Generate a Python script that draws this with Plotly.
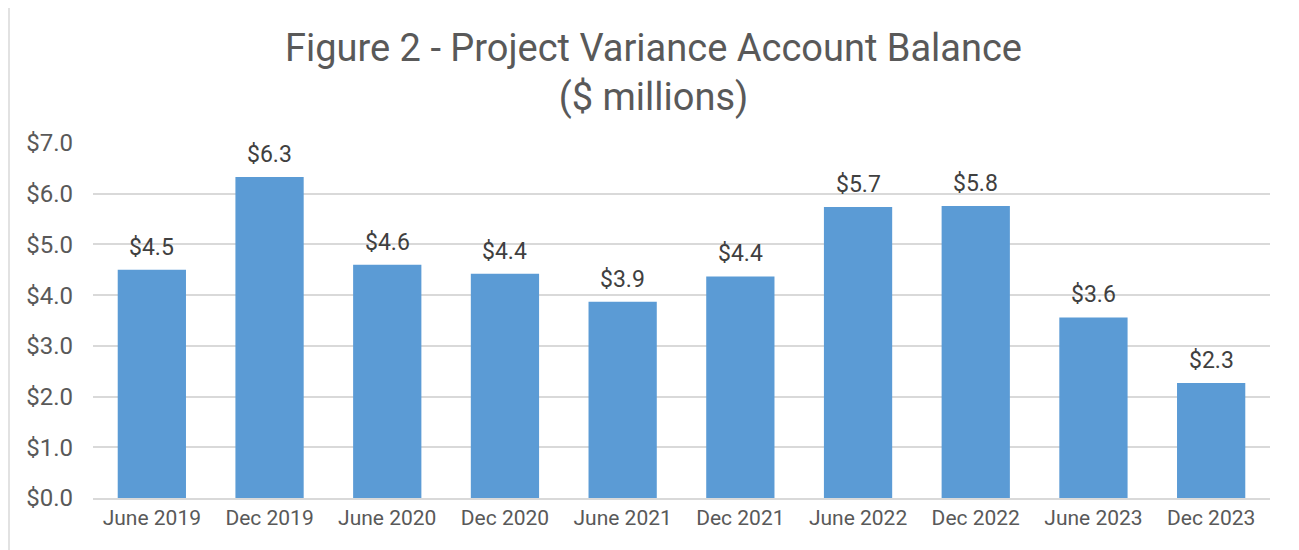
import plotly.graph_objects as go

categories = ["June 2019", "Dec 2019", "June 2020", "Dec 2020", "June 2021",
              "Dec 2021", "June 2022", "Dec 2022", "June 2023", "Dec 2023"]
values = [4.50, 6.33, 4.60, 4.42, 3.87, 4.37, 5.74, 5.76, 3.56, 2.27]
tick_vals = [0, 1, 2, 3, 4, 5, 6, 7]
tick_text = ["$0.0", "$1.0", "$2.0", "$3.0", "$4.0", "$5.0", "$6.0", "$7.0"]

# page body has an 8px margin; figure is sized/offset to compensate
W, H = 1291, 542
L, R, T, B = 85, 29, 135, 52
pw = W - L - R
ph = H - T - B

fig = go.Figure(go.Bar(
    x=categories, y=values,
    marker=dict(color="#5B9BD5", line=dict(width=0)),
    hoverinfo="x+y",
))

for c, v in zip(categories, values):
    fig.add_annotation(x=c, y=v, text=f"${v:.1f}", showarrow=False,
                       yanchor="bottom", yshift=7,
                       font=dict(size=23, color="#404040", family="Roboto"))

fig.update_layout(
    width=W, height=H,
    margin=dict(l=L, r=R, t=T, b=B, autoexpand=False),
    paper_bgcolor="white", plot_bgcolor="white",
    bargap=0.42,
    showlegend=False,
    font=dict(family="Roboto", color="#595959"),
    title=dict(text="Figure 2 - Project Variance Account Balance<br>($ millions)",
               x=0.5, xanchor="center", xref="container",
               y=1 - 53 / H, yanchor="middle", yref="container",
               font=dict(size=38, color="#595959", family="Roboto")),
    xaxis=dict(showgrid=False, showline=True, linecolor="#D9D9D9", linewidth=1.5,
               ticks="", automargin=False, tickfont=dict(size=21, color="#595959")),
    yaxis=dict(range=[0, 7], tickvals=tick_vals, ticktext=tick_text,
               showgrid=True, gridcolor="#D9D9D9", gridwidth=1.5,
               zeroline=False, showline=False, ticks="", automargin=False,
               ticklabelstandoff=19,
               tickfont=dict(size=24, color="#595959")),
    shapes=[dict(type="rect", xref="paper", yref="paper",
                 x0=(1 - L) / pw, x1=(1289 - L) / pw,
                 y0=-0.3, y1=(H - B + 5) / ph,
                 line=dict(color="#D9D9D9", width=1.5), fillcolor="rgba(0,0,0,0)",
                 layer="below")],
)

fig.write_html("out.html")
